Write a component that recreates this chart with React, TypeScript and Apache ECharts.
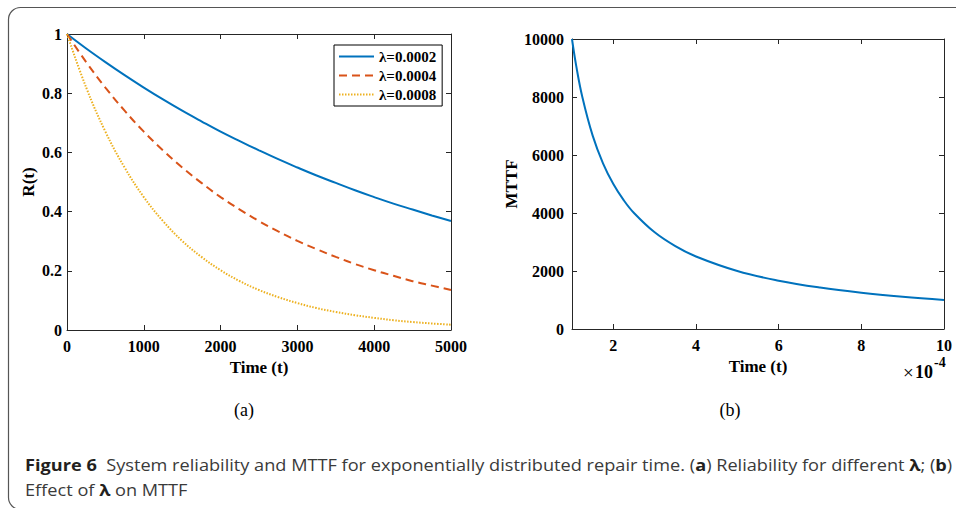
import React, { useEffect, useRef } from "react";
import * as echarts from "echarts";

// Panel (a): reliability R(t)
const times = [0, 250, 500, 750, 1000, 1250, 1500, 1750, 2000, 2250, 2500, 2750, 3000, 3250, 3500, 3750, 4000, 4250, 4500, 4750, 5000];
const r0002 = [1, 0.951, 0.905, 0.861, 0.819, 0.779, 0.741, 0.705, 0.67, 0.638, 0.607, 0.577, 0.549, 0.522, 0.497, 0.472, 0.449, 0.427, 0.407, 0.387, 0.368];
const r0004 = [1, 0.905, 0.819, 0.741, 0.67, 0.607, 0.549, 0.497, 0.449, 0.407, 0.368, 0.333, 0.301, 0.273, 0.247, 0.223, 0.202, 0.183, 0.165, 0.15, 0.135];
const r0008 = [1, 0.819, 0.67, 0.549, 0.449, 0.368, 0.301, 0.247, 0.202, 0.165, 0.135, 0.111, 0.091, 0.074, 0.061, 0.05, 0.041, 0.033, 0.027, 0.022, 0.018];
const legendNames = ["λ=0.0002", "λ=0.0004", "λ=0.0008"];

// Panel (b): MTTF vs lambda (x in units of 1e-4)
const lambdas = [1, 1.1, 1.25, 1.5, 1.75, 2, 2.25, 2.5, 3, 3.5, 4, 5, 6, 7, 8, 9, 10];
const mttf = [10000, 9091, 8000, 6667, 5714, 5000, 4444, 4000, 3333, 2857, 2500, 2000, 1667, 1429, 1250, 1111, 1000];
const lambdaTicks = [2, 4, 6, 8, 10];

const SERIF = "'Liberation Serif', 'Times New Roman', serif";
const SANS = "'Open Sans', 'Noto Sans', sans-serif";

const axisLineStyle = { color: "#262626", width: 1 };
const plain = (v: number) => String(v);
const tickLabel = { fontFamily: SERIF, fontWeight: "bold" as const, fontSize: 16, color: "#000", formatter: plain };
const nameStyle = { fontFamily: SERIF, fontWeight: "bold" as const, fontSize: 17, color: "#000" };

const pairs = (xs: number[], ys: number[]) => xs.map((x, i) => [x, ys[i]]);

export default function App() {
  const ref = useRef<HTMLDivElement>(null);
  useEffect(() => {
    if (!ref.current) return;
    const chart = echarts.init(ref.current, null, { renderer: "svg" });
    const baseAxis = (gi: number, pos: string, extra: any) => ({
      gridIndex: gi,
      type: "value",
      position: pos,
      axisLine: { show: true, onZero: false, lineStyle: axisLineStyle },
      axisTick: { show: true, inside: true, length: 5, lineStyle: axisLineStyle },
      splitLine: { show: false },
      ...extra,
    });
    const lineSeries = (name: string, xi: number, data: number[][], color: string, type: any) => ({
      name, type: "line", xAxisIndex: xi, yAxisIndex: xi,
      data, symbol: "none", showSymbol: false, smooth: 0.4,
      lineStyle: { color, width: 2, type }, itemStyle: { color },
    });
    const capRich = { b: { fontWeight: "bold", fontFamily: SANS, fontSize: 16, fill: "#231f20" } };
    chart.setOption({
      animation: false,
      backgroundColor: "#fff",
      grid: [
        { left: 67, top: 34, width: 384, height: 296 },
        { left: 572, top: 39, width: 372, height: 290 },
      ],
      xAxis: [
        baseAxis(0, "bottom", {
          min: 0, max: 5000, interval: 1000,
          name: "Time (t)", nameLocation: "middle", nameGap: 29, nameTextStyle: nameStyle,
          axisLabel: { ...tickLabel, margin: 8 },
        }),
        baseAxis(0, "top", { min: 0, max: 5000, interval: 1000, axisLabel: { show: false } }),
        baseAxis(1, "bottom", {
          min: 1, max: 10,
          name: "Time (t)", nameLocation: "middle", nameGap: 29, nameTextStyle: nameStyle,
          axisLabel: { ...tickLabel, margin: 8, customValues: lambdaTicks },
          axisTick: { show: true, inside: true, length: 5, lineStyle: axisLineStyle, customValues: lambdaTicks },
        }),
        baseAxis(1, "top", {
          min: 1, max: 10, axisLabel: { show: false },
          axisTick: { show: true, inside: true, length: 5, lineStyle: axisLineStyle, customValues: lambdaTicks },
        }),
      ],
      yAxis: [
        baseAxis(0, "left", {
          min: 0, max: 1, interval: 0.2,
          name: "R(t)", nameLocation: "middle", nameGap: 30, nameTextStyle: nameStyle,
          axisLabel: { ...tickLabel, margin: 5 },
        }),
        baseAxis(0, "right", { min: 0, max: 1, interval: 0.2, axisLabel: { show: false } }),
        baseAxis(1, "left", {
          min: 0, max: 10000, interval: 2000,
          name: "MTTF", nameLocation: "middle", nameGap: 52, nameTextStyle: nameStyle,
          axisLabel: { ...tickLabel, margin: 8 },
        }),
        baseAxis(1, "right", { min: 0, max: 10000, interval: 2000, axisLabel: { show: false } }),
      ],
      legend: {
        data: legendNames,
        orient: "vertical",
        left: 334,
        top: 45,
        itemWidth: 35,
        itemHeight: 14,
        itemGap: 4,
        padding: [4, 6, 4, 4],
        borderColor: "#000",
        borderWidth: 1,
        borderRadius: 0,
        backgroundColor: "#fff",
        itemStyle: { opacity: 0 },
        textStyle: { fontFamily: SERIF, fontWeight: "bold", fontSize: 15, color: "#000" },
      },
      series: [
        lineSeries(legendNames[0], 0, pairs(times, r0002), "#0072BD", "solid"),
        lineSeries(legendNames[1], 0, pairs(times, r0004), "#D95319", [8, 5]),
        lineSeries(legendNames[2], 0, pairs(times, r0008), "#EDB120", [1.5, 1.5]),
        { ...lineSeries("MTTF", 2, pairs(lambdas, mttf), "#0072BD", "solid"), yAxisIndex: 2 },
      ],
      graphic: [
        {
          type: "rect", silent: true,
          shape: { x: 8.5, y: 7.5, width: 1000, height: 502, r: 12 },
          style: { fill: "none", stroke: "#555", lineWidth: 1.2 },
        },
        {
          type: "text", x: 244, y: 410,
          style: { text: "(a)", fontFamily: SERIF, fontSize: 18, fill: "#000", align: "center", verticalAlign: "middle" },
        },
        {
          type: "text", x: 730, y: 410,
          style: { text: "(b)", fontFamily: SERIF, fontSize: 18, fill: "#000", align: "center", verticalAlign: "middle" },
        },
        {
          type: "text", x: 903, y: 372,
          style: { text: "×", fontFamily: SERIF, fontSize: 19, fill: "#000", align: "left", verticalAlign: "middle" },
        },
        {
          type: "text", x: 915, y: 372,
          style: { text: "10", fontFamily: SERIF, fontWeight: "bold", fontSize: 18, fill: "#000", align: "left", verticalAlign: "middle" },
        },
        {
          type: "text", x: 934, y: 362,
          style: { text: "-4", fontFamily: SERIF, fontWeight: "bold", fontSize: 14, fill: "#000", align: "left", verticalAlign: "middle" },
        },
        {
          type: "text", x: 25, y: 465, scaleX: 1.135,
          style: {
            text: "{b|Figure 6}  System reliability and MTTF for exponentially distributed repair time. ({b|a}) Reliability for different {b|λ}; ({b|b})",
            fontFamily: SANS, fontSize: 16, fill: "#3a3a3a", align: "left", verticalAlign: "middle",
            rich: capRich,
          },
        },
        {
          type: "text", x: 25, y: 490, scaleX: 1.135,
          style: {
            text: "Effect of {b|λ} on MTTF",
            fontFamily: SANS, fontSize: 16, fill: "#3a3a3a", align: "left", verticalAlign: "middle",
            rich: capRich,
          },
        },
      ],
    });
    return () => chart.dispose();
  }, []);
  return <div ref={ref} style={{ position: "absolute", left: 0, top: 0, width: 956, height: 508 }} />;
}
